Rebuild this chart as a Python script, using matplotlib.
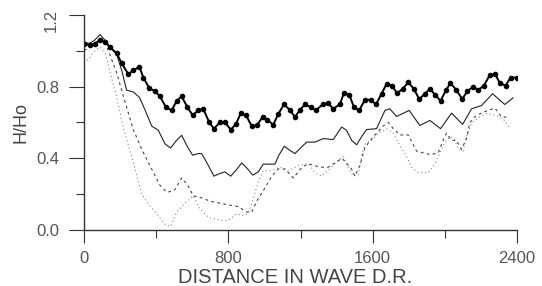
import matplotlib
matplotlib.use("Agg")
import matplotlib.pyplot as plt

plt.rcParams['font.family'] = ['Liberation Sans', 'DejaVu Sans']

# top curve (with markers)
x_mark = [0, 33, 61, 89, 116, 144, 181, 209, 245, 273, 307, 329, 362, 393, 421,
          454, 486, 513, 541, 573, 602, 633, 661, 694, 720, 753, 781, 813, 842,
          868, 898, 929, 957, 990, 1016, 1049, 1077, 1108, 1141, 1169, 1197,
          1224, 1256, 1285, 1322, 1353, 1381, 1418, 1440, 1470, 1496, 1525,
          1557, 1588, 1618, 1649, 1677, 1705, 1736, 1766, 1797, 1828, 1858,
          1889, 1917, 1945, 1976, 2006, 2031, 2064, 2096, 2124, 2157, 2184,
          2216, 2249, 2277, 2305, 2336, 2364, 2397]
y_mark = [1.04, 1.03, 1.04, 1.06, 1.05, 1.02, 0.985, 0.93, 0.87, 0.89, 0.91, 0.85,
          0.79, 0.775, 0.745, 0.685, 0.667, 0.72, 0.745, 0.685, 0.64, 0.667,
          0.676, 0.60, 0.565, 0.60, 0.60, 0.56, 0.59, 0.65, 0.64, 0.58, 0.583,
          0.63, 0.615, 0.587, 0.648, 0.70, 0.67, 0.63, 0.67, 0.70, 0.685, 0.667,
          0.70, 0.707, 0.676, 0.70, 0.763, 0.755, 0.685, 0.667, 0.726, 0.726,
          0.70, 0.76, 0.815, 0.805, 0.763, 0.787, 0.824, 0.787, 0.73, 0.76,
          0.787, 0.755, 0.72, 0.78, 0.82, 0.78, 0.73, 0.774, 0.80, 0.78, 0.805,
          0.865, 0.87, 0.82, 0.805, 0.85, 0.85]

# thin solid curve
x_solid = [0, 30, 60, 89, 115, 144, 181, 209, 236, 273, 307, 338, 375, 412, 449,
           480, 513, 541, 569, 602, 633, 652, 689, 720, 753, 781, 813, 846, 874,
           905, 935, 966, 993, 1030, 1058, 1080, 1110, 1141, 1169, 1206, 1234,
           1280, 1326, 1381, 1428, 1455, 1483, 1511, 1538, 1566, 1621, 1668,
           1695, 1732, 1802, 1861, 1917, 1976, 2037, 2098, 2148, 2203, 2264,
           2332, 2378]
y_solid = [1.05, 1.04, 1.06, 1.09, 1.06, 1.02, 0.98, 0.89, 0.78, 0.77, 0.74, 0.67,
           0.58, 0.556, 0.48, 0.457, 0.50, 0.528, 0.472, 0.417, 0.426, 0.426,
           0.36, 0.30, 0.315, 0.324, 0.30, 0.337, 0.374, 0.343, 0.306, 0.324,
           0.367, 0.367, 0.367, 0.417, 0.467, 0.444, 0.426, 0.463, 0.49, 0.49,
           0.51, 0.504, 0.574, 0.556, 0.50, 0.475, 0.52, 0.56, 0.565, 0.667,
           0.676, 0.633, 0.667, 0.583, 0.611, 0.565, 0.652, 0.589, 0.676, 0.694,
           0.76, 0.70, 0.737]

# dashed curve
x_dash = [0, 30, 60, 90, 120, 150, 180, 220, 273, 320, 375, 420, 460, 500, 541,
          575, 606, 650, 700, 750, 800, 855, 901, 930, 957, 1000, 1040, 1077,
          1114, 1160, 1200, 1240, 1307, 1353, 1400, 1430, 1465, 1483, 1501,
          1529, 1557, 1603, 1658, 1686, 1714, 1751, 1797, 1843, 1880, 1920,
          1963, 1990, 2009, 2037, 2064, 2092, 2120, 2138, 2175, 2221, 2277,
          2314, 2360]
y_dash = [1.00, 1.02, 1.04, 1.06, 1.04, 0.96, 0.88, 0.74, 0.56, 0.45, 0.34, 0.25,
          0.21, 0.22, 0.29, 0.25, 0.19, 0.18, 0.16, 0.15, 0.14, 0.13, 0.10,
          0.10, 0.16, 0.23, 0.30, 0.34, 0.34, 0.29, 0.34, 0.37, 0.35, 0.35,
          0.38, 0.40, 0.36, 0.34, 0.30, 0.36, 0.46, 0.52, 0.58, 0.60, 0.565,
          0.53, 0.53, 0.44, 0.43, 0.42, 0.43, 0.50, 0.54, 0.50, 0.50, 0.45,
          0.51, 0.60, 0.64, 0.66, 0.68, 0.63, 0.63]

# dotted curve
x_dot = [0, 30, 60, 90, 120, 150, 181, 218, 264, 320, 360, 403, 450, 480, 513,
         560, 606, 640, 690, 735, 780, 809, 846, 880, 910, 930, 966, 993, 1040,
         1086, 1132, 1190, 1243, 1280, 1317, 1360, 1400, 1436, 1465, 1492,
         1520, 1538, 1557, 1594, 1631, 1677, 1714, 1751, 1788, 1815, 1852,
         1908, 1945, 1972, 2000, 2028, 2055, 2074, 2101, 2120, 2150, 2190,
         2231, 2280, 2323, 2360]
y_dot = [0.93, 0.96, 1.00, 1.02, 0.98, 0.86, 0.74, 0.57, 0.41, 0.20, 0.14, 0.09,
         0.03, 0.02, 0.10, 0.15, 0.19, 0.12, 0.07, 0.06, 0.05, 0.06, 0.09, 0.08,
         0.09, 0.15, 0.27, 0.33, 0.33, 0.35, 0.33, 0.36, 0.37, 0.32, 0.30, 0.34,
         0.38, 0.41, 0.35, 0.30, 0.31, 0.41, 0.48, 0.50, 0.54, 0.565, 0.54,
         0.47, 0.41, 0.35, 0.32, 0.32, 0.37, 0.43, 0.49, 0.52, 0.50, 0.45,
         0.44, 0.52, 0.60, 0.63, 0.65, 0.64, 0.62, 0.57]

x_ticks = [0, 800, 1600, 2400]
x_minor = [400, 1200, 2000]
y_ticks = [0.0, 0.4, 0.8, 1.2]
y_tick_labels = ['0.0', '0.4', '0.8', '1.2']
y_minor = [0.2, 0.6, 1.0]

fig = plt.figure(figsize=(5.42, 2.86), dpi=100)
ax = fig.add_axes([0.155, 0.196, 0.799, 0.752])

ax.plot(x_dot, y_dot, color='#888888', lw=0.8, ls=(0, (1, 2.5)))
ax.plot(x_dash, y_dash, color='#444444', lw=0.8, ls=(0, (2.5, 3)))
ax.plot(x_solid, y_solid, color='#222222', lw=0.8)
ax.plot(x_mark, y_mark, color='black', lw=1.4, marker='o', ms=3.0)

ax.set_xlim(0, 2400)
ax.set_ylim(0, 1.2)
ax.spines['top'].set_visible(False)
ax.spines['right'].set_visible(False)
for s in ('left', 'bottom'):
    ax.spines[s].set_color('#333333')
    ax.spines[s].set_linewidth(1.0)

ax.set_xticks(x_ticks)
ax.set_xticks(x_minor, minor=True)
ax.set_yticks(y_ticks)
labels = ax.set_yticklabels(y_tick_labels)
labels[-1].set_rotation(90)
ax.set_yticks(y_minor, minor=True)

ax.tick_params(axis='x', which='major', direction='out', length=9, width=0.8,
               color='#333333', labelsize=12, labelcolor='#555555', pad=6)
ax.tick_params(axis='x', which='minor', direction='out', length=6, width=0.8,
               color='#333333')
ax.tick_params(axis='y', which='major', direction='out', length=11, width=0.8,
               color='#333333', labelsize=12, labelcolor='#555555', pad=7)
ax.tick_params(axis='y', which='minor', direction='out', length=6, width=0.8,
               color='#333333')

ax.set_xlabel('DISTANCE IN WAVE D.R.', fontsize=14.5, color='#444444')
ax.xaxis.set_label_coords(0.487, -0.175)
ax.set_ylabel('H/Ho', fontsize=13, color='#444444')
ax.yaxis.set_label_coords(-0.125, 0.5)

fig.savefig('out.png', dpi=100, facecolor='white')
